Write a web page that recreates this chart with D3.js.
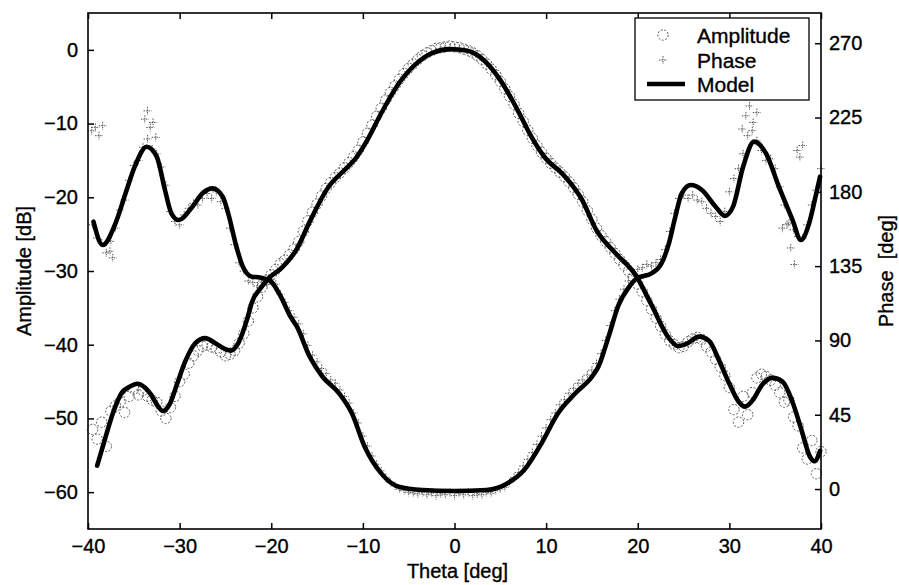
<!DOCTYPE html>
<html>
<head>
<meta charset="utf-8">
<script src="https://cdn.jsdelivr.net/npm/d3@7"></script>
<style>
  html, body { margin: 0; padding: 0; background: #fff; }
  svg { display: block; font-family: "Liberation Sans", Arial, sans-serif; }
</style>
</head>
<body>
<svg id="chart" width="899" height="585"></svg>
<script>
// ---------------- data ----------------
const xTicks = [-40, -30, -20, -10, 0, 10, 20, 30, 40];
const ampTicks = [-60, -50, -40, -30, -20, -10, 0];
const phaseTicks = [0, 45, 90, 135, 180, 225, 270];

const dataTheta = [
  -39.5,-39,-38.5,-38,-37.5,-37,-36.5,-36,-35.5,-35,-34.5,-34,-33.5,-33,-32.5,-32,-31.5,-31,-30.5,-30,
  -29.5,-29,-28.5,-28,-27.5,-27,-26.5,-26,-25.5,-25,-24.5,-24,-23.5,-23,-22.5,-22,-21.5,-21,-20.5,-20,
  -19.5,-19,-18.5,-18,-17.5,-17,-16.5,-16,-15.5,-15,-14.5,-14,-13.5,-13,-12.5,-12,-11.5,-11,-10.5,-10,
  -9.5,-9,-8.5,-8,-7.5,-7,-6.5,-6,-5.5,-5,-4.5,-4,-3.5,-3,-2.5,-2,-1.5,-1,-0.5,0,
  0.5,1,1.5,2,2.5,3,3.5,4,4.5,5,5.5,6,6.5,7,7.5,8,8.5,9,9.5,10,
  10.5,11,11.5,12,12.5,13,13.5,14,14.5,15,15.5,16,16.5,17,17.5,18,18.5,19,19.5,20,
  20.5,21,21.5,22,22.5,23,23.5,24,24.5,25,25.5,26,26.5,27,27.5,28,28.5,29,29.5,30,
  30.5,31,31.5,32,32.5,33,33.5,34,34.5,35,35.5,36,36.5,37,37.5,38,38.5,39,39.5,40
];

const ampData = [
  -51.5,-52.8,-50.5,-53.8,-49.0,-48.3,-47.8,-49.2,-47.0,-46.0,-46.8,-46.2,-47.0,-47.5,-47.8,-49.0,-50.0,-48.5,-47.0,-45.0,
  -44.0,-42.5,-41.5,-40.8,-40.2,-40.0,-40.3,-40.5,-41.0,-41.5,-41.3,-40.8,-39.8,-38.5,-36.8,-35.0,-33.5,-32.2,-31.2,-30.5,
  -29.8,-29.0,-28.5,-27.8,-27.0,-26.0,-24.6,-23.2,-22.0,-20.9,-19.8,-18.8,-18.0,-17.3,-16.7,-16.0,-15.3,-14.5,-13.6,-12.5,
  -11.3,-10.2,-9.0,-7.9,-6.8,-5.8,-4.9,-4.0,-3.2,-2.5,-1.9,-1.3,-0.8,-0.4,-0.1,0.2,0.3,0.4,0.5,0.4,
  0.3,0.1,-0.1,-0.4,-0.8,-1.3,-1.9,-2.6,-3.4,-4.3,-5.3,-6.3,-7.4,-8.6,-9.7,-10.9,-12.0,-13.0,-13.9,-14.7,
  -15.4,-16.0,-16.6,-17.2,-17.9,-18.7,-19.6,-20.6,-21.8,-23.0,-24.2,-25.2,-26.0,-26.8,-27.6,-28.4,-29.2,-30.0,-30.8,-31.8,
  -32.8,-34.0,-35.2,-36.4,-37.5,-38.6,-39.5,-40.0,-40.4,-40.2,-39.6,-39.2,-39.0,-39.3,-40.2,-41.0,-42.0,-43.0,-44.2,-45.8,
  -48.8,-50.5,-47.0,-49.5,-46.5,-44.5,-44.0,-44.3,-44.8,-45.5,-46.5,-47.8,-47.5,-49.8,-51.0,-54.0,-55.5,-53.0,-57.5,-54.5
];

const phaseData = [
  160,152,149,143,150,158,169,175,187,196,199,207,212,206,203,195,184,168,162,160,
  166,170,173,172,176,179,176,180,174,170,158,148,137,132,126,125,123,126,124,127,
  124,118,113,108,104,100,94,87,81,77,73,70,66,64,60,56,52,46,40,32,
  26,20,15,11,7,4,2,0,-1,-2,-2.5,-3,-2,-3.5,-2.5,-4,-3,-3.5,-2,-4,
  -2.5,-3.5,-2,-4,-3,-3.5,-2,-2.5,-1,0,1,4,7,10,14,18,22,27,32,37,
  42,46,51,54,58,61,64,66,69,72,76,82,90,99,108,115,121,126,130,133,
  134,136,135,137,139,145,156,167,176,178,176,178,175,174,170,167,165,162,168,180,
  188,194,203,214,217,211,205,199,200,194,183,172,161,157,153,152,160,172,181,194
];

// scattered phase points far off the model
const phaseOutTheta = [-39.6,-39.2,-38.8,-38.4,-37.6,-37.3,-33.8,-33.5,-33.2,-32.9,-32.6,31.4,31.8,32.2,32.6,33.0,35.8,36.3,36.7,37.1,37.4,37.7,38.0];
const phaseOutData  = [217,219,214,220,144,140,224,229,219,222,213,218,226,232,222,228,158,160,146,136,205,201,208];

const ampModelTheta = [-39.0,-38.1,-37.2,-36.3,-35.3,-34.6,-33.8,-33.1,-32.5,-31.8,-31.1,-30.3,-29.4,-28.3,-27.2,-26.1,-25.0,-24.4,-23.6,-22.6,-22.1,-21.2,-20.3,-18.8,-17.2,-15.8,-13.7,-12.0,-10.9,-9.5,-8.0,-6.1,-4.2,-2.4,-0.5,1.3,3.2,5.0,6.9,8.4,9.8,12.0,13.9,15.5,17.5,19.8,21.5,23.4,24.4,25.3,26.7,27.8,28.9,30.0,31.0,31.7,32.5,33.6,34.7,35.8,36.9,37.9,38.8,39.3,39.9];
const ampModelVals  = [-56.4,-52.6,-49.0,-46.5,-45.6,-45.3,-45.8,-46.8,-48.1,-49.0,-48.1,-45.4,-42.3,-39.8,-39.1,-39.8,-40.6,-40.8,-39.8,-36.4,-34.2,-32.4,-31.0,-29.5,-27.0,-23.3,-18.5,-16.3,-14.9,-12.2,-8.6,-4.6,-1.9,-0.4,0.1,-0.1,-1.4,-4.1,-8.2,-11.8,-14.5,-17.1,-20.3,-24.5,-27.5,-30.6,-34.6,-39.1,-40.2,-39.9,-38.9,-39.5,-42.2,-45.3,-47.7,-48.4,-47.6,-45.4,-44.5,-45.0,-47.8,-51.7,-55.2,-55.8,-54.4];

const phaseModelTheta = [-39.4,-38.4,-37.0,-35.9,-34.9,-33.6,-32.5,-31.6,-30.9,-30.1,-28.6,-27.5,-26.4,-25.3,-24.6,-23.9,-23.1,-22.1,-21.4,-20.1,-19.0,-17.9,-17.2,-15.8,-14.4,-12.6,-11.2,-9.8,-8.0,-6.1,-3.5,-0.1,3.5,5.8,7.6,9.5,11.3,13.2,15.0,15.7,16.8,17.9,19.0,19.9,21.5,22.6,23.4,24.1,24.8,25.8,27.0,28.5,29.5,30.4,31.5,32.7,34.0,35.4,36.9,37.8,38.7,39.4,39.9];
const phaseModelVals  = [161.9,147.8,160.9,179.1,195.2,207.3,201.3,181.1,167.0,162.9,171.0,179.1,182.1,177.0,164.9,148.8,134.7,128.6,128.3,126.0,117.0,104.4,98.3,80.1,68.0,58.0,45.9,25.6,9.5,1.4,-0.6,-1.2,-0.6,3.5,11.5,27.7,45.9,58.0,68.0,74.0,92.0,111.4,122.0,127.6,130.6,136.7,148.8,164.9,179.1,184.1,181.1,171.0,165.4,171.0,195.2,210.4,203.3,183.1,162.9,150.8,160.9,177.0,189.2];

const legendLabels = ["Amplitude", "Phase", "Model"];

// ---------------- chart ----------------
const svg = d3.select("#chart");
const L = 88, R = 821, T = 13, B = 529;

const x = d3.scaleLinear().domain([-40, 40]).range([L, R]);
const yA = d3.scaleLinear().domain([-65, 5]).range([B, T]);
const yP = d3.scaleLinear().domain([-24.2, 288.3]).range([B, T]);

const markerColor = "#555";

// amplitude markers (circles)
svg.append("g").selectAll("circle")
  .data(dataTheta.map((t, i) => [t, ampData[i]]))
  .join("circle")
  .attr("cx", d => x(d[0]))
  .attr("cy", d => yA(d[1]))
  .attr("r", 5.2)
  .attr("fill", "none")
  .attr("stroke", markerColor)
  .attr("stroke-width", 1)
  .attr("stroke-dasharray", "2,1.6");

// phase markers (plus)
const plusPath = (cx, cy) => `M${cx - 4},${cy}h8M${cx},${cy - 4}v8`;
const phasePts = dataTheta.map((t, i) => [t, phaseData[i]])
  .concat(phaseOutTheta.map((t, i) => [t, phaseOutData[i]]));
svg.append("g").selectAll("path")
  .data(phasePts)
  .join("path")
  .attr("d", d => plusPath(x(d[0]), yP(d[1])))
  .attr("fill", "none")
  .attr("stroke", markerColor)
  .attr("stroke-width", 1)
  .attr("stroke-dasharray", "1.5,1");

// model lines
const ampLine = d3.line().x(d => x(d[0])).y(d => yA(d[1])).curve(d3.curveMonotoneX);
const phLine = d3.line().x(d => x(d[0])).y(d => yP(d[1])).curve(d3.curveMonotoneX);

svg.append("path")
  .datum(ampModelTheta.map((t, i) => [t, ampModelVals[i]]))
  .attr("d", ampLine)
  .attr("fill", "none").attr("stroke", "#000").attr("stroke-width", 4.6)
  .attr("stroke-linejoin", "round").attr("stroke-linecap", "round");

svg.append("path")
  .datum(phaseModelTheta.map((t, i) => [t, phaseModelVals[i]]))
  .attr("d", phLine)
  .attr("fill", "none").attr("stroke", "#000").attr("stroke-width", 4.6)
  .attr("stroke-linejoin", "round").attr("stroke-linecap", "round");

// axes
const fontSize = 20;
function styleText(sel) {
  sel.attr("fill", "#000").attr("stroke", "#000").attr("stroke-width", 0.35)
    .attr("font-family", "Liberation Sans, Arial, sans-serif");
}
function styleAxis(g) {
  g.select(".domain").remove();
  g.selectAll(".tick line").attr("stroke", "#000").attr("stroke-width", 1.5);
  g.selectAll(".tick text").attr("font-size", fontSize).call(styleText);
}

svg.append("g").attr("transform", `translate(0,${B})`)
  .call(d3.axisBottom(x).tickValues(xTicks).tickSizeInner(-6).tickSizeOuter(0).tickPadding(10))
  .call(styleAxis);
svg.append("g").attr("transform", `translate(0,${T})`)
  .call(d3.axisTop(x).tickValues(xTicks).tickSizeInner(-6).tickSizeOuter(0).tickFormat(""))
  .call(styleAxis);
svg.append("g").attr("transform", `translate(${L},0)`)
  .call(d3.axisLeft(yA).tickValues(ampTicks).tickSizeInner(-6).tickSizeOuter(0).tickPadding(10))
  .call(styleAxis);
svg.append("g").attr("transform", `translate(${R},0)`)
  .call(d3.axisRight(yP).tickValues(phaseTicks).tickSizeInner(-6).tickSizeOuter(0).tickPadding(8))
  .call(styleAxis);

// frame
svg.append("rect").attr("x", L).attr("y", T).attr("width", R - L).attr("height", B - T)
  .attr("fill", "none").attr("stroke", "#000").attr("stroke-width", 1.6);

// axis titles
svg.append("text").attr("x", (L + R) / 2 + 3).attr("y", 578).attr("text-anchor", "middle")
  .attr("font-size", fontSize).call(styleText).text("Theta [deg]");
svg.append("text").attr("transform", "translate(31,271) rotate(-90)").attr("text-anchor", "middle")
  .attr("font-size", fontSize).call(styleText).text("Amplitude [dB]");
svg.append("text").attr("transform", "translate(893,271) rotate(-90)").attr("text-anchor", "middle")
  .attr("font-size", fontSize).call(styleText).style("white-space", "pre").text("Phase  [deg]");

// legend
const lg = svg.append("g");
lg.append("rect").attr("x", 635).attr("y", 18).attr("width", 174).attr("height", 82)
  .attr("fill", "#fff").attr("stroke", "#000").attr("stroke-width", 1.3);
const rowY = [35, 60, 84];
lg.append("circle").attr("cx", 663).attr("cy", rowY[0]).attr("r", 5.2)
  .attr("fill", "none").attr("stroke", markerColor).attr("stroke-width", 1).attr("stroke-dasharray", "2,1.6");
lg.append("path").attr("d", plusPath(663, rowY[1]))
  .attr("fill", "none").attr("stroke", markerColor).attr("stroke-width", 1).attr("stroke-dasharray", "1.5,1");
lg.append("line").attr("x1", 647).attr("x2", 685).attr("y1", rowY[2]).attr("y2", rowY[2])
  .attr("stroke", "#000").attr("stroke-width", 4.6);
lg.selectAll("text.lbl").data(legendLabels).join("text").attr("class", "lbl")
  .attr("x", 697).attr("y", (d, i) => rowY[i]).attr("dy", "0.36em")
  .attr("font-size", 21).call(styleText).text(d => d);
</script>
</body>
</html>
